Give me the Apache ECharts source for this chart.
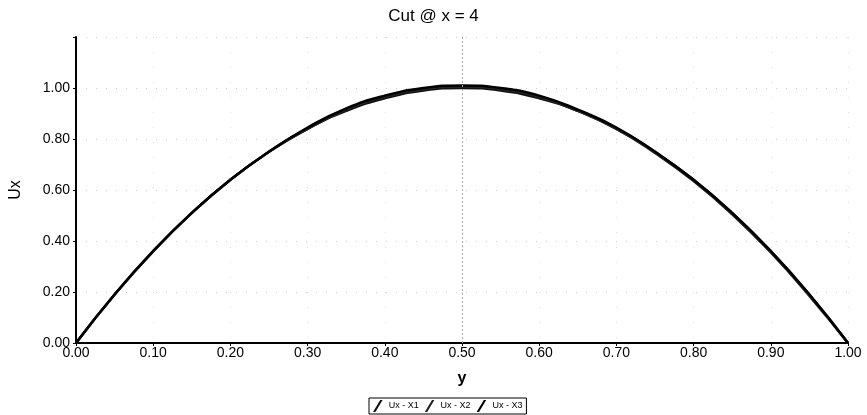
<!DOCTYPE html>
<html>
<head>
<meta charset="utf-8">
<script src="https://cdn.jsdelivr.net/npm/echarts@6/dist/echarts.min.js"></script>
<style>
html,body{margin:0;padding:0;background:#fff;}
#chart{width:867px;height:415px;}
</style>
</head>
<body>
<div id="chart"></div>
<script>
// y positions of the cut
const yPos = [0, 0.05, 0.1, 0.15, 0.2, 0.25, 0.3, 0.35, 0.4, 0.45, 0.5, 0.55, 0.6, 0.65, 0.7, 0.75, 0.8, 0.85, 0.9, 0.95, 1.0];
// Ux values
const ux1 = [0, 0.19, 0.36, 0.51, 0.64, 0.75, 0.84, 0.91, 0.96, 0.99, 1.00, 0.99, 0.96, 0.91, 0.84, 0.75, 0.64, 0.51, 0.36, 0.19, 0];
const ux2 = [0, 0.19, 0.36, 0.51, 0.64, 0.75, 0.84, 0.915, 0.965, 0.995, 1.005, 0.995, 0.965, 0.91, 0.84, 0.745, 0.635, 0.505, 0.355, 0.185, 0];
const ux3 = [0, 0.19, 0.36, 0.51, 0.64, 0.75, 0.845, 0.92, 0.97, 1.0, 1.01, 1.0, 0.97, 0.915, 0.845, 0.75, 0.64, 0.51, 0.36, 0.19, 0];
const names = ['Ux - X1', 'Ux - X2', 'Ux - X3'];

const pairs = arr => yPos.map((y, i) => [y, arr[i]]);
const slash = 'path://M2,10 L8,0 L10,0 L4,10 Z';

const $chart = echarts.init(document.getElementById('chart'));
const font = 'Liberation Sans, Arial, sans-serif';

function mk(name, data, color) {
	return {
		name: name,
		type: 'line',
		smooth: true,
		showSymbol: false,
		data: pairs(data),
		lineStyle: { color: color, width: 2.5 },
		itemStyle: { color: color }
	};
}

const series = [
	mk(names[0], ux1, '#111'),
	mk(names[1], ux2, '#222'),
	mk(names[2], ux3, '#000')
];
series[0].markLine = {
	silent: true,
	symbol: 'none',
	label: { show: false },
	lineStyle: { color: '#aaa', type: [2, 2], width: 1 },
	data: [{ xAxis: 0.5 }]
};

$chart.setOption({
	animation: false,
	backgroundColor: '#fff',
	title: {
		text: 'Cut @ x = 4',
		left: 'center',
		top: 3,
		textStyle: { fontFamily: font, fontSize: 17, fontWeight: 'normal', color: '#000' }
	},
	grid: { left: 72, right: 19, top: 37, bottom: 72 },
	legend: {
		data: names,
		bottom: 1,
		left: 369,
		icon: slash,
		itemWidth: 12,
		itemHeight: 12,
		itemGap: 6,
		padding: [2, 4],
		borderColor: '#000',
		borderWidth: 1,
		textStyle: { fontFamily: font, fontSize: 9, color: '#000' }
	},
	xAxis: {
		type: 'value',
		min: 0,
		max: 1,
		interval: 0.1,
		name: 'y',
		nameLocation: 'middle',
		nameGap: 28,
		nameTextStyle: { fontFamily: font, fontSize: 16, fontWeight: 'bold', color: '#000' },
		axisLine: { lineStyle: { color: '#000', width: 2 } },
		axisTick: { show: true, length: 3, lineStyle: { color: '#000' } },
		axisLabel: { fontFamily: font, fontSize: 14, color: '#000', margin: 3, formatter: v => v.toFixed(2) },
		splitLine: { show: true, lineStyle: { color: '#ddd', type: [1, 14] } }
	},
	yAxis: {
		type: 'value',
		min: 0,
		max: 1.2,
		interval: 0.2,
		name: 'Ux',
		nameLocation: 'middle',
		nameGap: 52,
		nameTextStyle: { fontFamily: font, fontSize: 16, color: '#000' },
		axisLine: { lineStyle: { color: '#000', width: 2 } },
		axisTick: { show: true, length: 3, lineStyle: { color: '#000' } },
		axisLabel: {
			fontFamily: font, fontSize: 14, color: '#000', margin: 6,
			formatter: v => (v > 1.1 ? '' : v.toFixed(2))
		},
		splitLine: { show: true, lineStyle: { color: '#ccc', type: [1, 9] } }
	},
	series: series
}, true);
</script>
</body>
</html>
